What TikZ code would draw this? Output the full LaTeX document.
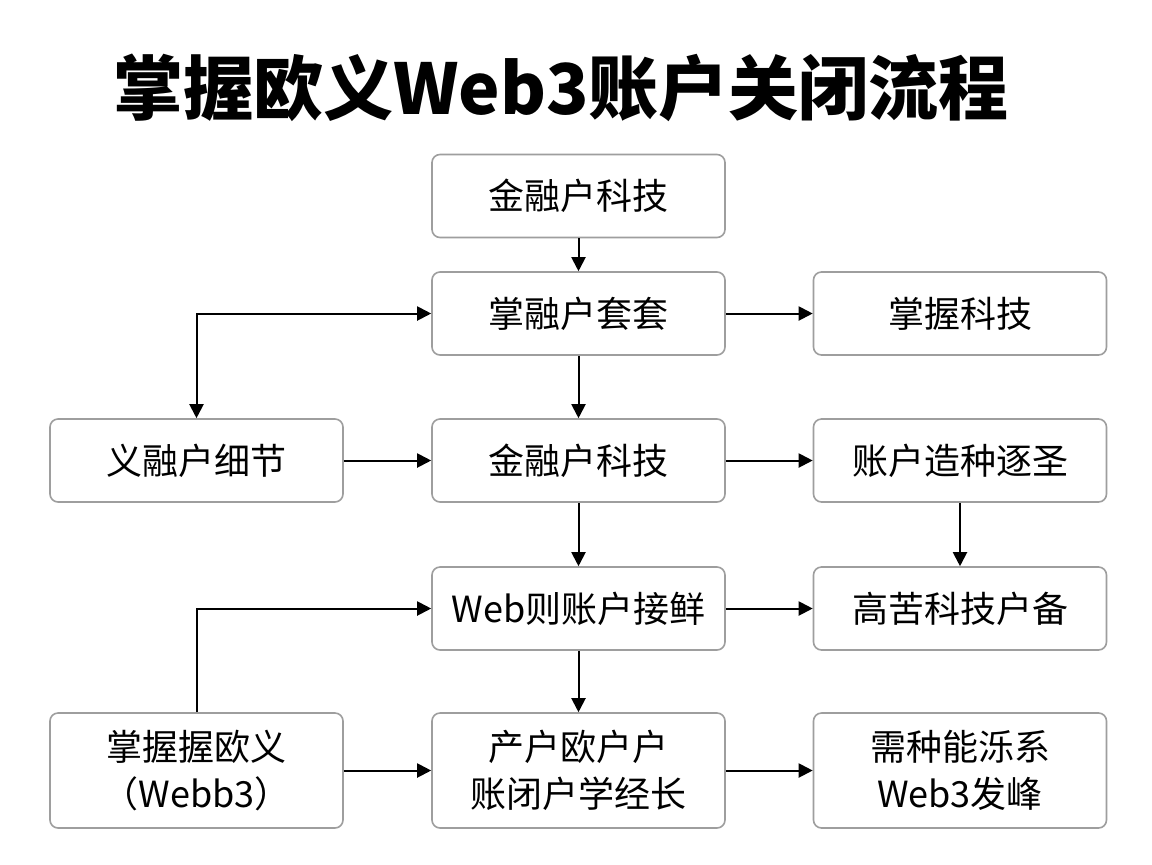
\documentclass[tikz,border=0pt]{standalone}
\usepackage{fontspec}
\setmainfont{Noto Sans CJK SC}
\usetikzlibrary{arrows.meta}
\begin{document}
\begin{tikzpicture}[x=0.5pt,y=-0.5pt,
  box/.style={draw=black!38, line width=0.8pt, rounded corners=4pt, fill=white,
    minimum width=146.5pt, minimum height=41.5pt, inner sep=2pt,
    font=\fontsize{18}{23.5}\selectfont, align=center},
  tallbox/.style={box, minimum height=57.5pt},
  arr/.style={line width=1pt, -{Triangle[length=7pt,width=7pt]}},
  arrboth/.style={line width=1pt, {Triangle[length=7pt,width=7pt]}-{Triangle[length=7pt,width=7pt]}}]
\useasboundingbox[fill=white] (0,0) rectangle (1152,864);
\node[font=\fontsize{35}{40}\selectfont\bfseries] (title) at (561,88) {掌握欧义Web3账户关闭流程};
\node[box] (n1) at (578.5,196) {金融户科技};
\node[box] (n22) at (578.5,313.5) {掌融户套套};
\node[box] (n23) at (960,313.5) {掌握科技};
\node[box] (n31) at (196.5,460.5) {义融户细节};
\node[box] (n32) at (578.5,460.5) {金融户科技};
\node[box] (n33) at (960,460.5) {账户造种逐圣};
\node[box] (n42) at (578.5,608.5) {Web则账户接鲜};
\node[box] (n43) at (960,608.5) {高苦科技户备};
\node[tallbox] (n51) at (196.5,770.5) {掌握握欧义\\（Webb3）};
\node[tallbox] (n52) at (578.5,770.5) {产户欧户户\\账闭户学经长};
\node[tallbox] (n53) at (960,770.5) {需种能泺系\\Web3发峰};
\draw[arr] (n1) -- (n22);
\draw[arr] (n22) -- (n23);
\draw[arr] (n22) -- (n32);
\draw[arrboth] (n22.west) -| (n31.north);
\draw[arr] (n31) -- (n32);
\draw[arr] (n32) -- (n33);
\draw[arr] (n32) -- (n42);
\draw[arr] (n33) -- (n43);
\draw[arr] (n42) -- (n43);
\draw[arr] (n51.north) |- (n42.west);
\draw[arr] (n42) -- (n52);
\draw[arr] (n51) -- (n52);
\draw[arr] (n52) -- (n53);
\end{tikzpicture}
\end{document}
